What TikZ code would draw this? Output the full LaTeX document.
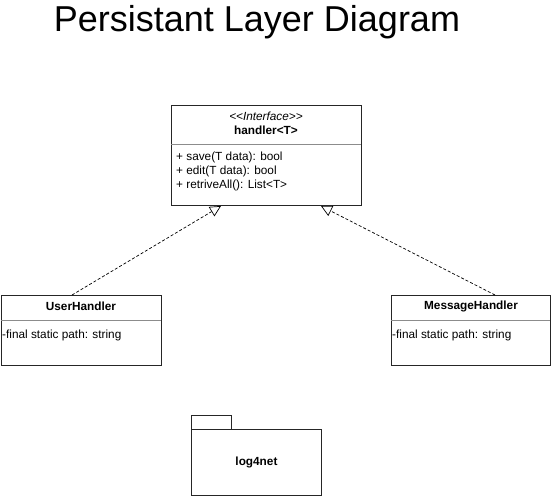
\documentclass[tikz,border=0pt]{standalone}
\usepackage{fontspec}
\setmainfont{Liberation Sans}[Ligatures=NoCommon]
\usetikzlibrary{arrows.meta}
\begin{document}
\begin{tikzpicture}[x=1pt,y=-1pt,
  box/.style={draw=black!85, line width=0.9pt, fill=white},
  sep/.style={draw=black!45, line width=0.6pt},
  small/.style={font=\fontsize{11.8}{14}\selectfont, inner sep=0pt},
  real/.style={draw=black, dashed, dash pattern=on 3pt off 2pt, line width=0.7pt,
    -{Triangle[open, length=11pt, width=11pt, fill=white]}}]
\useasboundingbox (0,0) rectangle (551,496);
\node[font=\fontsize{36}{40}\selectfont, inner sep=0pt] (title) at (257,22) {Persistant Layer Diagram};
% interface
\node[box, minimum width=190pt, minimum height=100pt, anchor=north west, inner sep=0pt] (iface) at (171,105) {};
\draw[sep] (171,144) -- (361,144);
\node[small, font=\fontsize{11.8}{14}\selectfont\itshape] (st) at (266,116) {<{}<Interface>{}>};
\node[small, font=\fontsize{11.8}{14}\selectfont\bfseries] (hn) at (266,130) {handler<T>};
\node[small, anchor=west] (m1) at (176,157) {+ save(T data): bool};
\node[small, anchor=west] (m2) at (176,171) {+ edit(T data): bool};
\node[small, anchor=west] (m3) at (176,185) {+ retriveAll(): List<T>};
% UserHandler
\node[box, minimum width=160pt, minimum height=70pt, anchor=north west, inner sep=0pt] (uh) at (1,295) {};
\draw[sep] (1,320) -- (161,320);
\node[small, font=\fontsize{11.8}{14}\selectfont\bfseries] (uhn) at (81,306) {UserHandler};
\node[small, anchor=west] (uha) at (2,335) {-final static path: string};
% MessageHandler
\node[box, minimum width=159pt, minimum height=70pt, anchor=north west, inner sep=0pt] (mh) at (391,295) {};
\draw[sep] (391,320) -- (550,320);
\node[small, font=\fontsize{11.8}{14}\selectfont\bfseries] (mhn) at (471,306) {MessageHandler};
\node[small, anchor=west] (mha) at (392,335) {-final static path: string};
% package
\node[box, minimum width=40pt, minimum height=14pt, anchor=north west, inner sep=0pt] (tab) at (191,415) {};
\node[box, minimum width=130pt, minimum height=66pt, anchor=north west, inner sep=0pt] (pkg) at (191,429) {};
\node[small, font=\fontsize{11.8}{14}\selectfont\bfseries] (pkgn) at (pkg.center) {log4net};
% realizations
\coordinate (t1) at (221,206);
\coordinate (t2) at (321,206);
\draw[real] (72,295) -- (t1);
\draw[real] (495,295) -- (t2);
\end{tikzpicture}
\end{document}
